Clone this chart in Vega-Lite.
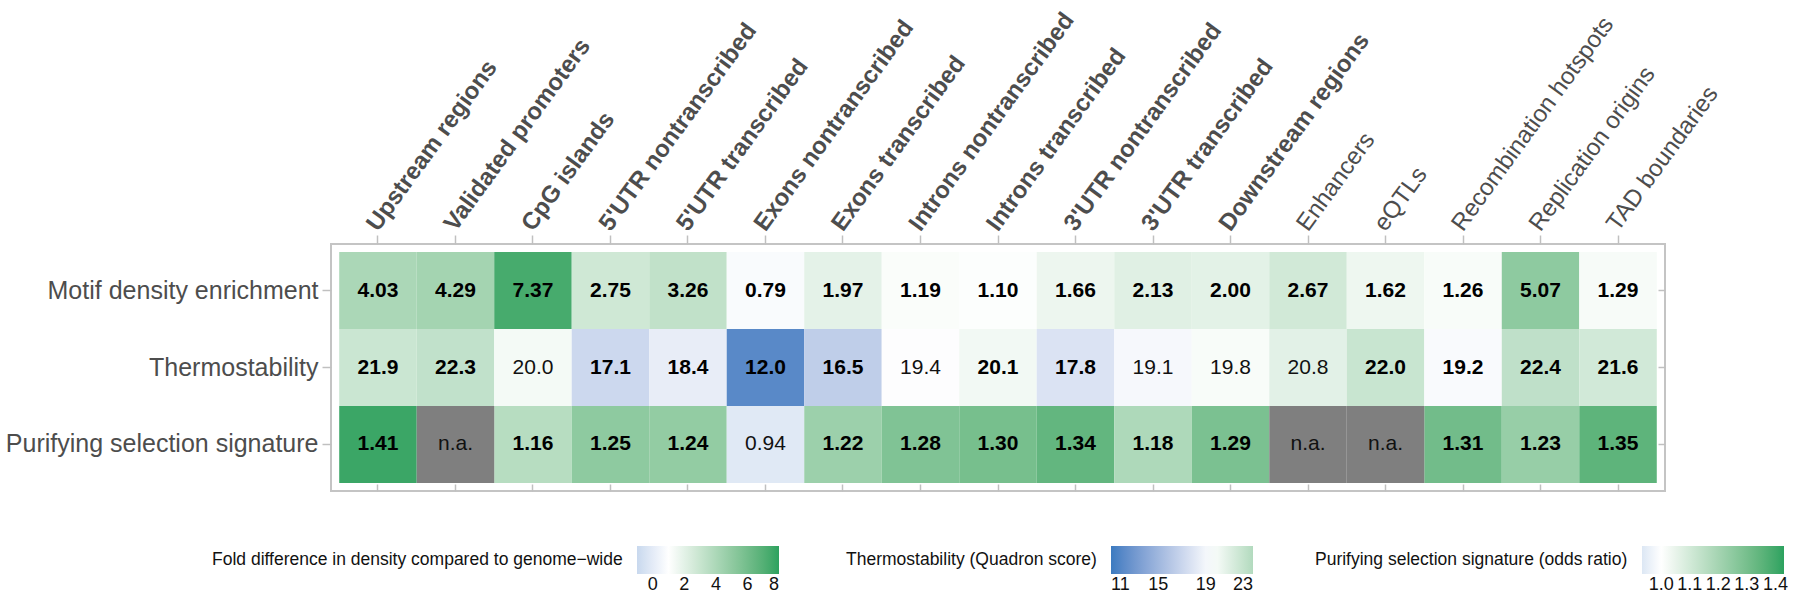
{
  "$schema": "https://vega.github.io/schema/vega-lite/v6.json",
  "autosize": {"type": "none"},
  "width": 1334,
  "height": 247,
  "padding": {"left": 331, "top": 244, "right": 135, "bottom": 107},
  "background": "white",
  "config": {
    "font": "Liberation Sans",
    "view": {"stroke": "#c4c4c4", "strokeWidth": 2},
    "axis": {"domain": false, "grid": false, "tickColor": "#c0c0c0", "tickWidth": 1.5, "title": null, "labelColor": "#4d4d4d"},
    "legend": {
      "direction": "horizontal",
      "orient": "none",
      "titleOrient": "left",
      "titleFontSize": 17.5,
      "titleFontWeight": "normal",
      "titleColor": "#111111",
      "titleAnchor": "middle",
      "titleBaseline": "middle",
      "titlePadding": 14,
      "titleLimit": 600,
      "labelFontSize": 18,
      "labelColor": "#111111",
      "labelOverlap": false,
      "gradientLength": 142,
      "gradientThickness": 28,
      "gradientStrokeWidth": 0
    }
  },
  "data": {
    "values": [
      {"feature": "Upstream regions", "measure": "Motif density enrichment", "value": 4.03, "label": "4.03", "significant": true},
      {"feature": "Validated promoters", "measure": "Motif density enrichment", "value": 4.29, "label": "4.29", "significant": true},
      {"feature": "CpG islands", "measure": "Motif density enrichment", "value": 7.37, "label": "7.37", "significant": true},
      {"feature": "5'UTR nontranscribed", "measure": "Motif density enrichment", "value": 2.75, "label": "2.75", "significant": true},
      {"feature": "5'UTR transcribed", "measure": "Motif density enrichment", "value": 3.26, "label": "3.26", "significant": true},
      {"feature": "Exons nontranscribed", "measure": "Motif density enrichment", "value": 0.79, "label": "0.79", "significant": true},
      {"feature": "Exons transcribed", "measure": "Motif density enrichment", "value": 1.97, "label": "1.97", "significant": true},
      {"feature": "Introns nontranscribed", "measure": "Motif density enrichment", "value": 1.19, "label": "1.19", "significant": true},
      {"feature": "Introns transcribed", "measure": "Motif density enrichment", "value": 1.10, "label": "1.10", "significant": true},
      {"feature": "3'UTR nontranscribed", "measure": "Motif density enrichment", "value": 1.66, "label": "1.66", "significant": true},
      {"feature": "3'UTR transcribed", "measure": "Motif density enrichment", "value": 2.13, "label": "2.13", "significant": true},
      {"feature": "Downstream regions", "measure": "Motif density enrichment", "value": 2.00, "label": "2.00", "significant": true},
      {"feature": "Enhancers", "measure": "Motif density enrichment", "value": 2.67, "label": "2.67", "significant": true},
      {"feature": "eQTLs", "measure": "Motif density enrichment", "value": 1.62, "label": "1.62", "significant": true},
      {"feature": "Recombination hotspots", "measure": "Motif density enrichment", "value": 1.26, "label": "1.26", "significant": true},
      {"feature": "Replication origins", "measure": "Motif density enrichment", "value": 5.07, "label": "5.07", "significant": true},
      {"feature": "TAD boundaries", "measure": "Motif density enrichment", "value": 1.29, "label": "1.29", "significant": true},

      {"feature": "Upstream regions", "measure": "Thermostability", "value": 21.9, "label": "21.9", "significant": true},
      {"feature": "Validated promoters", "measure": "Thermostability", "value": 22.3, "label": "22.3", "significant": true},
      {"feature": "CpG islands", "measure": "Thermostability", "value": 20.0, "label": "20.0", "significant": false},
      {"feature": "5'UTR nontranscribed", "measure": "Thermostability", "value": 17.1, "label": "17.1", "significant": true},
      {"feature": "5'UTR transcribed", "measure": "Thermostability", "value": 18.4, "label": "18.4", "significant": true},
      {"feature": "Exons nontranscribed", "measure": "Thermostability", "value": 12.0, "label": "12.0", "significant": true},
      {"feature": "Exons transcribed", "measure": "Thermostability", "value": 16.5, "label": "16.5", "significant": true},
      {"feature": "Introns nontranscribed", "measure": "Thermostability", "value": 19.4, "label": "19.4", "significant": false},
      {"feature": "Introns transcribed", "measure": "Thermostability", "value": 20.1, "label": "20.1", "significant": true},
      {"feature": "3'UTR nontranscribed", "measure": "Thermostability", "value": 17.8, "label": "17.8", "significant": true},
      {"feature": "3'UTR transcribed", "measure": "Thermostability", "value": 19.1, "label": "19.1", "significant": false},
      {"feature": "Downstream regions", "measure": "Thermostability", "value": 19.8, "label": "19.8", "significant": false},
      {"feature": "Enhancers", "measure": "Thermostability", "value": 20.8, "label": "20.8", "significant": false},
      {"feature": "eQTLs", "measure": "Thermostability", "value": 22.0, "label": "22.0", "significant": true},
      {"feature": "Recombination hotspots", "measure": "Thermostability", "value": 19.2, "label": "19.2", "significant": true},
      {"feature": "Replication origins", "measure": "Thermostability", "value": 22.4, "label": "22.4", "significant": true},
      {"feature": "TAD boundaries", "measure": "Thermostability", "value": 21.6, "label": "21.6", "significant": true},

      {"feature": "Upstream regions", "measure": "Purifying selection signature", "value": 1.41, "label": "1.41", "significant": true},
      {"feature": "Validated promoters", "measure": "Purifying selection signature", "value": null, "label": "n.a.", "significant": false},
      {"feature": "CpG islands", "measure": "Purifying selection signature", "value": 1.16, "label": "1.16", "significant": true},
      {"feature": "5'UTR nontranscribed", "measure": "Purifying selection signature", "value": 1.25, "label": "1.25", "significant": true},
      {"feature": "5'UTR transcribed", "measure": "Purifying selection signature", "value": 1.24, "label": "1.24", "significant": true},
      {"feature": "Exons nontranscribed", "measure": "Purifying selection signature", "value": 0.94, "label": "0.94", "significant": false},
      {"feature": "Exons transcribed", "measure": "Purifying selection signature", "value": 1.22, "label": "1.22", "significant": true},
      {"feature": "Introns nontranscribed", "measure": "Purifying selection signature", "value": 1.28, "label": "1.28", "significant": true},
      {"feature": "Introns transcribed", "measure": "Purifying selection signature", "value": 1.30, "label": "1.30", "significant": true},
      {"feature": "3'UTR nontranscribed", "measure": "Purifying selection signature", "value": 1.34, "label": "1.34", "significant": true},
      {"feature": "3'UTR transcribed", "measure": "Purifying selection signature", "value": 1.18, "label": "1.18", "significant": true},
      {"feature": "Downstream regions", "measure": "Purifying selection signature", "value": 1.29, "label": "1.29", "significant": true},
      {"feature": "Enhancers", "measure": "Purifying selection signature", "value": null, "label": "n.a.", "significant": false},
      {"feature": "eQTLs", "measure": "Purifying selection signature", "value": null, "label": "n.a.", "significant": false},
      {"feature": "Recombination hotspots", "measure": "Purifying selection signature", "value": 1.31, "label": "1.31", "significant": true},
      {"feature": "Replication origins", "measure": "Purifying selection signature", "value": 1.23, "label": "1.23", "significant": true},
      {"feature": "TAD boundaries", "measure": "Purifying selection signature", "value": 1.35, "label": "1.35", "significant": true}
    ]
  },
  "encoding": {
    "x": {
      "field": "feature", "type": "nominal",
      "sort": ["Upstream regions","Validated promoters","CpG islands","5'UTR nontranscribed","5'UTR transcribed","Exons nontranscribed","Exons transcribed","Introns nontranscribed","Introns transcribed","3'UTR nontranscribed","3'UTR transcribed","Downstream regions","Enhancers","eQTLs","Recombination hotspots","Replication origins","TAD boundaries"],
      "scale": {"paddingInner": 0, "paddingOuter": 0.106},
      "axis": null
    },
    "y": {
      "field": "measure", "type": "nominal",
      "sort": ["Motif density enrichment","Thermostability","Purifying selection signature"],
      "scale": {"paddingInner": 0, "paddingOuter": 0.104},
      "axis": null
    }
  },
  "layer": [
    {
      "transform": [{"filter": "datum.measure === 'Motif density enrichment'"}],
      "mark": {"type": "rect", "strokeWidth": 0},
      "encoding": {
        "x": {
          "field": "feature", "type": "nominal",
          "sort": ["Upstream regions","Validated promoters","CpG islands","5'UTR nontranscribed","5'UTR transcribed","Exons nontranscribed","Exons transcribed","Introns nontranscribed","Introns transcribed","3'UTR nontranscribed","3'UTR transcribed","Downstream regions","Enhancers","eQTLs","Recombination hotspots","Replication origins","TAD boundaries"],
          "scale": {"paddingInner": 0, "paddingOuter": 0.106},
          "axis": {
            "orient": "top", "labelAngle": -54, "labelAlign": "left", "labelBaseline": "alphabetic",
            "labelFontSize": 24, "labelPadding": 3, "tickSize": 9, "labelLimit": 400,
            "labelFontWeight": {"condition": {"test": "indexof(['Enhancers','eQTLs','Recombination hotspots','Replication origins','TAD boundaries'], datum.value) >= 0", "value": "normal"}, "value": "bold"}
          }
        },
        "y": {
          "field": "measure", "type": "nominal",
          "sort": ["Motif density enrichment","Thermostability","Purifying selection signature"],
          "scale": {"paddingInner": 0, "paddingOuter": 0.104},
          "axis": {"orient": "left", "labelFontSize": 25, "labelPadding": 4, "tickSize": 9, "labelLimit": 400}
        },
        "color": {
          "field": "value", "type": "quantitative",
          "scale": {"domain": [-1, 1, 8], "range": ["#c8d8ee", "#ffffff", "#2ca25f"], "interpolate": "lab"},
          "legend": {"title": "Fold difference in density compared to genome−wide", "values": [0, 2, 4, 6, 8], "legendX": -119, "legendY": 302}
        }
      }
    },
    {
      "transform": [{"filter": "datum.measure === 'Thermostability'"}],
      "mark": {"type": "rect", "strokeWidth": 0},
      "encoding": {
        "color": {
          "field": "value", "type": "quantitative",
          "scale": {"domain": [11, 19.5, 23], "range": ["#3c7bc0", "#ffffff", "#b2dabe"], "interpolate": "lab"},
          "legend": {"title": "Thermostability (Quadron score)", "values": [11, 15, 19, 23], "legendX": 515, "legendY": 302}
        }
      }
    },
    {
      "transform": [{"filter": "datum.measure === 'Purifying selection signature' && datum.value != null"}],
      "mark": {"type": "rect", "strokeWidth": 0},
      "encoding": {
        "color": {
          "field": "value", "type": "quantitative",
          "scale": {"domain": [0.933, 1, 1.43], "range": ["#dce7f4", "#ffffff", "#2ca25f"], "interpolate": "lab"},
          "legend": {"title": "Purifying selection signature (odds ratio)", "values": [1.0, 1.1, 1.2, 1.3, 1.4], "format": ".1f", "legendX": 984, "legendY": 302}
        }
      }
    },
    {
      "transform": [{"filter": "datum.value == null"}],
      "mark": {"type": "rect", "strokeWidth": 0, "color": "#7f7f7f"},
      "encoding": {
        "x": {
          "field": "feature", "type": "nominal",
          "sort": ["Upstream regions","Validated promoters","CpG islands","5'UTR nontranscribed","5'UTR transcribed","Exons nontranscribed","Exons transcribed","Introns nontranscribed","Introns transcribed","3'UTR nontranscribed","3'UTR transcribed","Downstream regions","Enhancers","eQTLs","Recombination hotspots","Replication origins","TAD boundaries"],
          "scale": {"paddingInner": 0, "paddingOuter": 0.106},
          "axis": {"orient": "bottom", "labels": false, "tickSize": -7}
        },
        "y": {
          "field": "measure", "type": "nominal",
          "sort": ["Motif density enrichment","Thermostability","Purifying selection signature"],
          "scale": {"paddingInner": 0, "paddingOuter": 0.104},
          "axis": {"orient": "right", "labels": false, "tickSize": -7}
        }
      }
    },
    {
      "transform": [{"filter": "datum.significant"}],
      "mark": {"type": "text", "fontSize": 21, "fontWeight": "bold", "color": "#000000", "align": "center", "baseline": "middle"},
      "encoding": {"text": {"field": "label", "type": "nominal"}}
    },
    {
      "transform": [{"filter": "!datum.significant"}],
      "mark": {"type": "text", "fontSize": 21, "fontWeight": "normal", "color": "#111111", "align": "center", "baseline": "middle"},
      "encoding": {"text": {"field": "label", "type": "nominal"}}
    }
  ],
  "resolve": {"scale": {"color": "independent"}, "axis": {"x": "independent", "y": "independent"}}
}
